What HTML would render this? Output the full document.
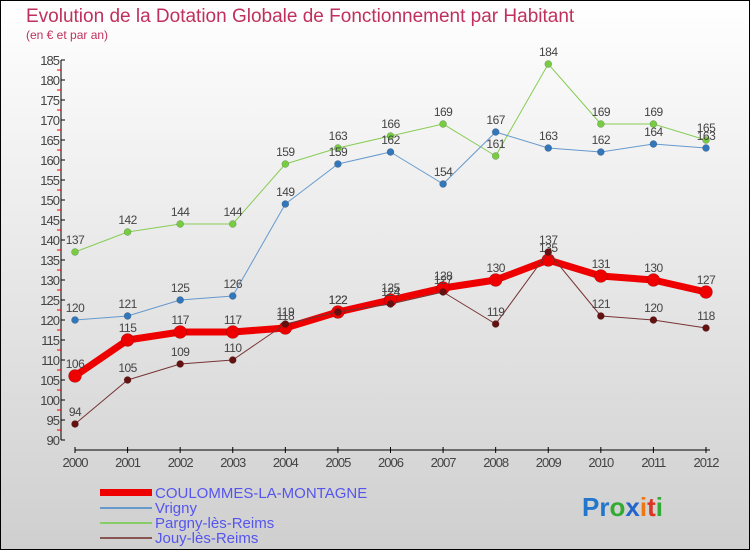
<!DOCTYPE html>
<html><head><meta charset="utf-8"><style>
html,body{margin:0;padding:0}
body{width:750px;height:550px;overflow:hidden;font-family:"Liberation Sans",sans-serif}
svg text{font-family:"Liberation Sans",sans-serif}
</style></head><body>
<svg id="chart" width="750" height="550" xmlns="http://www.w3.org/2000/svg">
<defs><linearGradient id="bg" x1="0" y1="0" x2="0" y2="1"><stop offset="0" stop-color="#ffffff"/><stop offset="1" stop-color="#cfcfcf"/></linearGradient></defs>
<rect x="0.5" y="0.5" width="749" height="549" fill="url(#bg)" stroke="#000"/>
<text x="26" y="22" font-size="19" fill="#c0305e">Evolution de la Dotation Globale de Fonctionnement par Habitant</text>
<text x="26" y="39" font-size="12" fill="#c0305e">(en € et par an)</text>
<g id="axes"></g>
<g id="series"></g>
<g>
<rect x="100" y="489" width="52" height="7" fill="#ee0000"/>
<text x="155" y="498" font-size="15" fill="#5555ee">COULOMMES-LA-MONTAGNE</text>
<rect x="100" y="507" width="52" height="2" fill="#6699cc"/>
<text x="155" y="513" font-size="15" fill="#5555ee">Vrigny</text>
<rect x="100" y="522" width="52" height="2" fill="#88cc66"/>
<text x="155" y="528" font-size="15" fill="#5555ee">Pargny-lès-Reims</text>
<rect x="100" y="537" width="52" height="2" fill="#885555"/>
<text x="155" y="543" font-size="15" fill="#5555ee">Jouy-lès-Reims</text>
</g>
<g font-size="26" font-weight="bold">
<text x="582" y="516"><tspan fill="#2277cc">Pr</tspan><tspan fill="#33aa33">o</tspan><tspan fill="#2266cc">x</tspan><tspan fill="#ee7711">i</tspan><tspan fill="#dd3322">t</tspan><tspan fill="#33aa33">i</tspan></text>
</g>
</svg>
<script>
const years=[2000,2001,2002,2003,2004,2005,2006,2007,2008,2009,2010,2011,2012];
const coulommes=[106,115,117,117,118,122,125,128,130,135,131,130,127];
const vrigny=[120,121,125,126,149,159,162,154,167,163,162,164,163];
const pargny=[137,142,144,144,159,163,166,169,161,184,169,169,165];
const jouy=[94,105,109,110,119,122,124,127,119,137,121,120,118];
const yTicks=[90,95,100,105,110,115,120,125,130,135,140,145,150,155,160,165,170,175,180,185];
const NS="http://www.w3.org/2000/svg";
const x=i=>75+i*(631/(years.length-1));
const y=v=>60+(185-v)*4;
function mk(tag,attrs,parent){const e=document.createElementNS(NS,tag);for(const k in attrs)e.setAttribute(k,attrs[k]);parent.appendChild(e);return e;}
const axes=document.getElementById('axes');
const ya=mk('line',{x1:61,y1:y(185),x2:61,y2:y(90),stroke:'#000'},axes);


yTicks.forEach(v=>{
 mk('line',{x1:61,y1:y(v),x2:65,y2:y(v),stroke:'#000'},axes);
 if(v<185){mk('line',{x1:57,y1:y(v+2.5),x2:61,y2:y(v+2.5),stroke:'#e00'},axes);}
 const t=mk('text',{x:59,y:y(v)+5,'font-size':13,fill:'#444','text-anchor':'end','letter-spacing':'-1'},axes);
 t.textContent=v;
 
 
});
const xa=mk('line',{x1:x(0),y1:450,x2:x(years.length-1)+4,y2:450,stroke:'#000'},axes);


years.forEach((yr,i)=>{
 mk('line',{x1:x(i),y1:447,x2:x(i),y2:453,stroke:'#000'},axes);
 const t=mk('text',{x:x(i),y:467,'font-size':13,fill:'#444','text-anchor':'middle','letter-spacing':'-1'},axes);
 t.textContent=yr;
 
 
});
const sg=document.getElementById('series');
function drawSeries(vals,name,color,dot,w,r){
 const g=mk('g',{},sg);
 
 
 const pl=mk('polyline',{points:vals.map((v,i)=>x(i)+','+y(v)).join(' '),fill:'none',stroke:color,'stroke-width':w,'stroke-linejoin':'round'},g);
 
 vals.forEach((v,i)=>{
  const c=mk('circle',{cx:x(i),cy:y(v),r:r,fill:dot,stroke:'rgba(0,0,0,0.3)','stroke-width':0.5},g);
  
  
  const t=mk('text',{x:x(i),y:y(v)-8,'font-size':12,fill:'#444','text-anchor':'middle','letter-spacing':'-0.5'},g);
  t.textContent=v;
  
  
 });
}
drawSeries(pargny,'pargny-series','#88cc55','#77cc44',1,3.5);
drawSeries(vrigny,'vrigny-series','#6699cc','#3377bb',1,3.5);
drawSeries(coulommes,'coulommes-series','#ee0000','#ee0000',7,6.5);
drawSeries(jouy,'jouy-series','#773333','#661111',1,3.5);
</script>
</body></html>
